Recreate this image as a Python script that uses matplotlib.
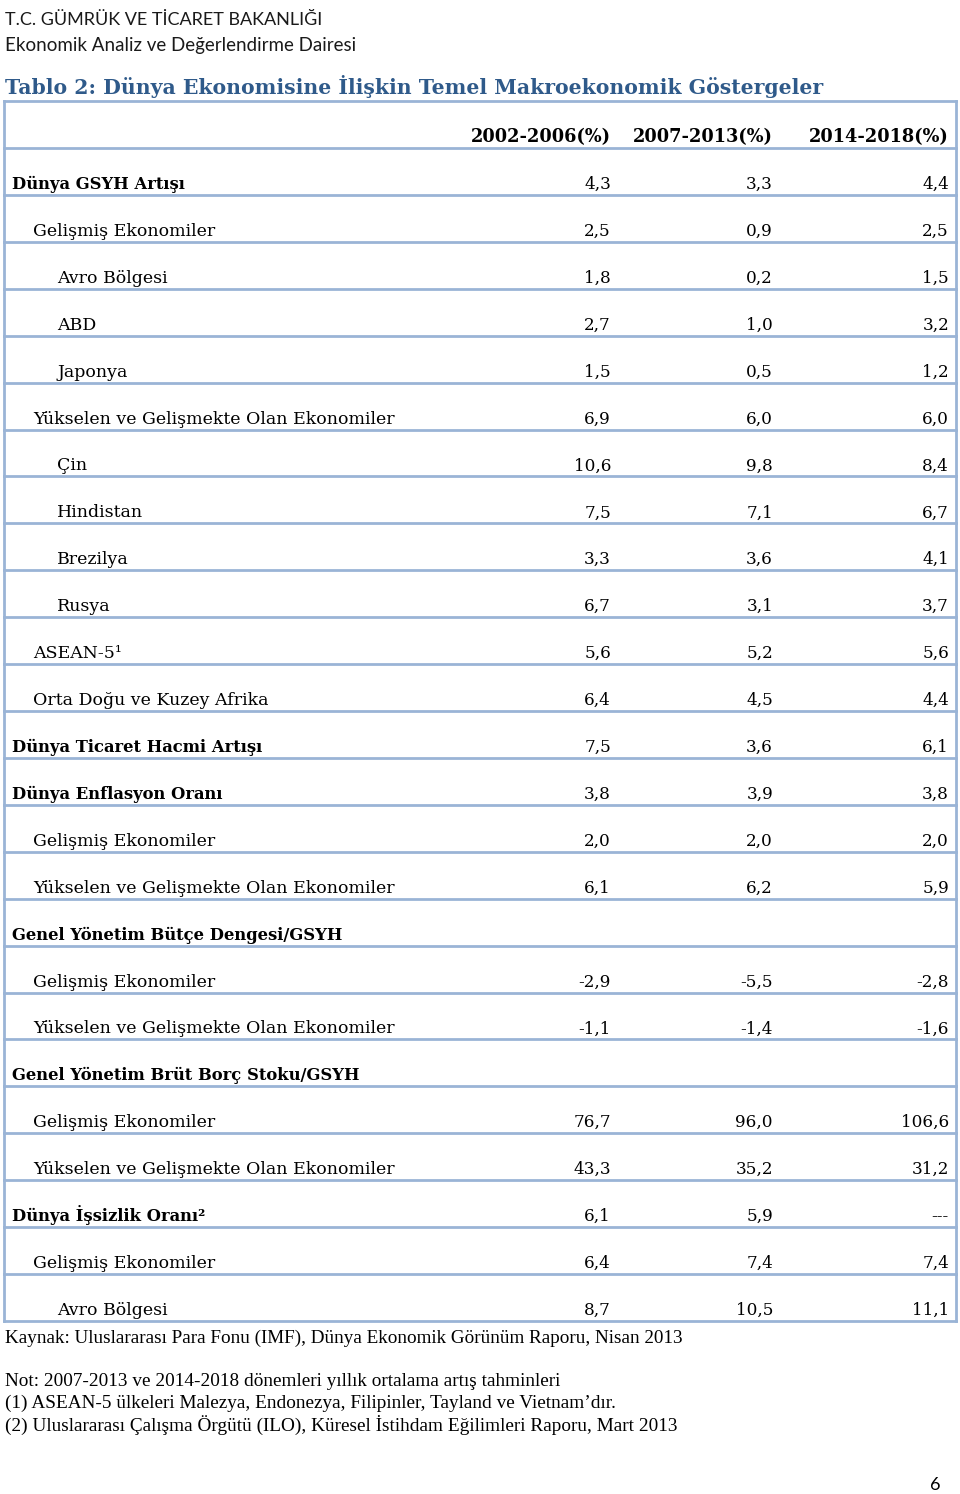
import math
import matplotlib.pyplot as plt

# tablo verileri
labels = [
    'Dünya GSYH Artışı', 'Gelişmiş Ekonomiler', 'Avro Bölgesi', 'ABD', 'Japonya',
    'Yükselen ve Gelişmekte Olan Ekonomiler', 'Çin', 'Hindistan', 'Brezilya', 'Rusya',
    'ASEAN-5¹', 'Orta Doğu ve Kuzey Afrika', 'Dünya Ticaret Hacmi Artışı',
    'Dünya Enflasyon Oranı', 'Gelişmiş Ekonomiler', 'Yükselen ve Gelişmekte Olan Ekonomiler',
    'Genel Yönetim Bütçe Dengesi/GSYH', 'Gelişmiş Ekonomiler',
    'Yükselen ve Gelişmekte Olan Ekonomiler', 'Genel Yönetim Brüt Borç Stoku/GSYH',
    'Gelişmiş Ekonomiler', 'Yükselen ve Gelişmekte Olan Ekonomiler',
    'Dünya İşsizlik Oranı²', 'Gelişmiş Ekonomiler', 'Avro Bölgesi',
]
levels = [0, 1, 2, 2, 2, 1, 2, 2, 2, 2, 1, 1, 0, 0, 1, 1, 0, 1, 1, 0, 1, 1, 0, 1, 2]
columns = ['2002-2006(%)', '2007-2013(%)', '2014-2018(%)']
# None = boş hücre, nan = '---'
v_2002_2006 = [4.3, 2.5, 1.8, 2.7, 1.5, 6.9, 10.6, 7.5, 3.3, 6.7, 5.6, 6.4, 7.5,
               3.8, 2.0, 6.1, None, -2.9, -1.1, None, 76.7, 43.3, 6.1, 6.4, 8.7]
v_2007_2013 = [3.3, 0.9, 0.2, 1.0, 0.5, 6.0, 9.8, 7.1, 3.6, 3.1, 5.2, 4.5, 3.6,
               3.9, 2.0, 6.2, None, -5.5, -1.4, None, 96.0, 35.2, 5.9, 7.4, 10.5]
v_2014_2018 = [4.4, 2.5, 1.5, 3.2, 1.2, 6.0, 8.4, 6.7, 4.1, 3.7, 5.6, 4.4, 6.1,
               3.8, 2.0, 5.9, None, -2.8, -1.6, None, 106.6, 31.2, float('nan'), 7.4, 11.1]

notes = [
    'Not: 2007-2013 ve 2014-2018 dönemleri yıllık ortalama artış tahminleri',
    '(1) ASEAN-5 ülkeleri Malezya, Endonezya, Filipinler, Tayland ve Vietnam’dır.',
    '(2) Uluslararası Çalışma Örgütü (ILO), Küresel İstihdam Eğilimleri Raporu, Mart 2013',
]

line_col = '#9ab4d6'
title_col = '#2f5a8a'
serif = 'DejaVu Serif'
narrow = 'Liberation Serif'
sans = 'Lato'

fig = plt.figure(figsize=(9.6, 14.94), dpi=100)
ax = fig.add_axes([0, 0, 1, 1])
ax.set_xlim(0, 960)
ax.set_ylim(1494, 0)
ax.axis('off')

# sayfa başlığı
ax.text(5, 20, 'T.C. GÜMRÜK VE TİCARET BAKANLIĞI', family=sans, fontsize=13,
        color='#1a1a1a', va='center')
ax.text(5, 45, 'Ekonomik Analiz ve Değerlendirme Dairesi', family=sans, fontsize=13.5,
        color='#1a1a1a', va='center')
ax.text(5, 86, 'Tablo 2: Dünya Ekonomisine İlişkin Temel Makroekonomik Göstergeler',
        family=serif, fontsize=14.7, fontweight='bold', color=title_col, va='center')

left, right = 4, 956
top, head_bot = 101, 148
row_h = (1321 - head_bot) / len(labels)
col_x = [611, 773, 949]
indent = {0: 12, 1: 33, 2: 57}

def fmt(v):
    if v is None:
        return ''
    if isinstance(v, float) and math.isnan(v):
        return '---'
    return f'{v:.1f}'.replace('.', ',')

# başlık satırı
for x, c in zip(col_x, columns):
    ax.text(x, head_bot - 6, c, family=serif, fontsize=12.8, fontweight='bold',
            ha='right', va='baseline')

ax.plot([left, right], [top, top], color=line_col, lw=2)
ax.plot([left, right], [head_bot, head_bot], color=line_col, lw=2)

for i, lab in enumerate(labels):
    bot = head_bot + (i + 1) * row_h
    base = bot - 6
    bold = levels[i] == 0
    ax.text(indent[levels[i]], base, lab, family=serif,
            fontsize=11.8 if bold else 12.5, fontweight='bold' if bold else 'normal',
            ha='left', va='baseline')
    for x, col in zip(col_x, [v_2002_2006, v_2007_2013, v_2014_2018]):
        ax.text(x, base, fmt(col[i]), family=serif, fontsize=12.2, ha='right', va='baseline')
    ax.plot([left, right], [bot, bot], color=line_col, lw=2)

table_bot = head_bot + len(labels) * row_h
ax.plot([left, left], [top, table_bot], color=line_col, lw=2)
ax.plot([right, right], [top, table_bot], color=line_col, lw=2)

ax.text(5, 1338, 'Kaynak: Uluslararası Para Fonu (IMF), Dünya Ekonomik Görünüm Raporu, Nisan 2013',
        family=narrow, fontsize=13.8, va='center')
for k, n in enumerate(notes):
    ax.text(5, 1381 + k * 22, n, family=narrow, fontsize=13.9, va='center')

ax.text(935, 1485, '6', family=sans, fontsize=13, ha='center', va='center')

fig.savefig('out.png', dpi=100)
